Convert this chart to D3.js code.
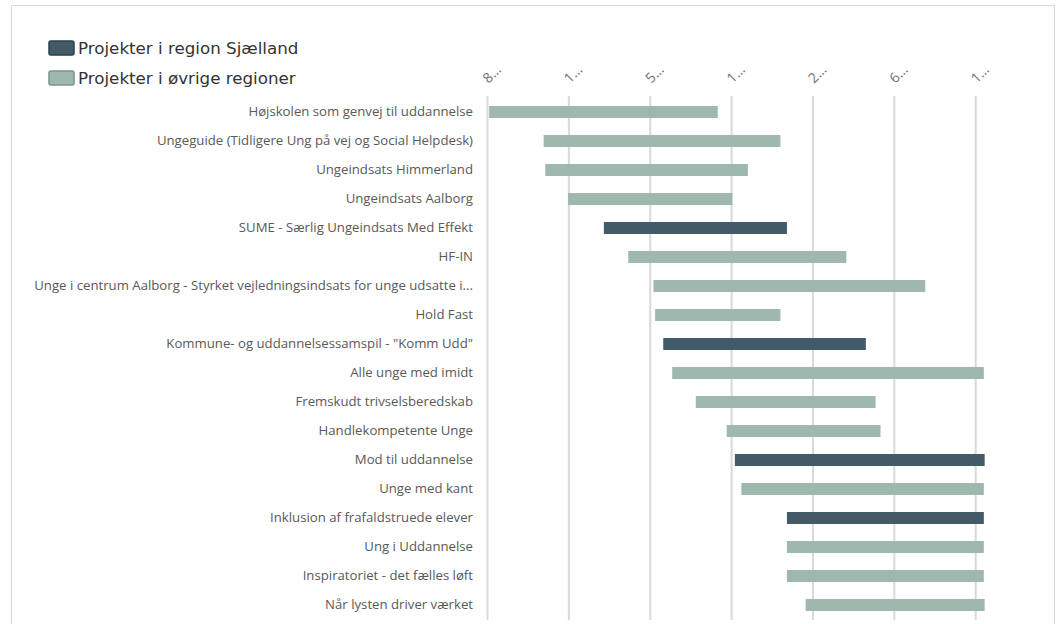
<!DOCTYPE html>
<html>
<head>
	<meta charset="utf-8">
	<title>Projekter - tidslinje</title>
	<style>
		html, body { margin: 0; padding: 0; background: #fff; }
		svg { display: block; }
		.lbl { font-family: 'Open Sans', sans-serif; font-size: 13.2px; fill: #595959; }
		.tick { font-family: 'Open Sans', sans-serif; font-size: 14px; fill: #6f6f6f; }
		.leg { font-family: 'DejaVu Sans', Verdana, sans-serif; font-size: 16.7px; fill: #333; }
	</style>
</head>
<body>
	<svg id="chart" width="1059" height="624"></svg>
	<script src="https://cdnjs.cloudflare.com/ajax/libs/d3/7.8.5/d3.min.js"></script>
	<script>
		// projects, top to bottom
		var projects = [
			'Højskolen som genvej til uddannelse',
			'Ungeguide (Tidligere Ung på vej og Social Helpdesk)',
			'Ungeindsats Himmerland',
			'Ungeindsats Aalborg',
			'SUME - Særlig Ungeindsats Med Effekt',
			'HF-IN',
			'Unge i centrum Aalborg - Styrket vejledningsindsats for unge udsatte i...',
			'Hold Fast',
			'Kommune- og uddannelsessamspil - "Komm Udd"',
			'Alle unge med imidt',
			'Fremskudt trivselsberedskab',
			'Handlekompetente Unge',
			'Mod til uddannelse',
			'Unge med kant',
			'Inklusion af frafaldstruede elever',
			'Ung i Uddannelse',
			'Inspiratoriet - det fælles løft',
			'Når lysten driver værket'
		];
		// start / end on the time axis (in tick units)
		var starts = [0.02, 0.69, 0.71, 0.99, 1.43, 1.73, 2.04, 2.06, 2.16, 2.27, 2.56, 2.94, 3.04, 3.12, 3.68, 3.68, 3.68, 3.91];
		var ends   = [2.83, 3.6, 3.2, 3.01, 3.68, 4.41, 5.38, 3.6, 4.65, 6.1, 4.77, 4.83, 6.11, 6.1, 6.1, 6.1, 6.1, 6.11];
		// 1 = region Sjælland, 0 = øvrige regioner
		var sjaelland = [0, 0, 0, 0, 1, 0, 0, 0, 1, 0, 0, 0, 1, 0, 1, 0, 0, 0];
		var tickLabels = ['8…', '1…', '5…', '1…', '2…', '6…', '1…'];
		var legendLabels = ['Projekter i region Sjælland', 'Projekter i øvrige regioner'];

		var colors = ['#9eb8ae', '#435a68'];
		var svg = d3.select('#chart');

		// outer frame (no bottom edge visible)
		svg.append('path')
			.attr('d', 'M11.5,624 V5.5 H1054.5 V624')
			.attr('fill', 'none').attr('stroke', '#d9d9d9').attr('stroke-width', 1);

		var x = d3.scaleLinear().domain([0, 6]).range([487.5, 975.7]);
		var y = d3.scaleBand().domain(d3.range(projects.length)).range([97.5, 619.5]).paddingInner(0.586).paddingOuter(0.293);

		// grid lines
		svg.append('g').selectAll('line')
			.data(d3.range(tickLabels.length))
			.join('line')
			.attr('x1', function (d) { return x(d); }).attr('x2', function (d) { return x(d); })
			.attr('y1', 96).attr('y2', 620)
			.attr('stroke', '#d9d9d9').attr('stroke-width', 2);

		// rotated tick labels
		svg.append('g').selectAll('text')
			.data(tickLabels)
			.join('text')
			.attr('class', 'tick')
			.attr('transform', function (d, i) { return 'translate(' + (x(i) + 1) + ',84) rotate(-45)'; })
			.text(function (d) { return d; });

		// bars
		svg.append('g').selectAll('rect')
			.data(projects)
			.join('rect')
			.attr('x', function (d, i) { return x(starts[i]); })
			.attr('width', function (d, i) { return x(ends[i]) - x(starts[i]); })
			.attr('y', function (d, i) { return y(i); })
			.attr('height', y.bandwidth())
			.attr('fill', function (d, i) { return colors[sjaelland[i]]; });

		// category labels
		svg.append('g').selectAll('text')
			.data(projects)
			.join('text')
			.attr('class', 'lbl')
			.attr('x', 473)
			.attr('y', function (d, i) { return y(i) + y.bandwidth() / 2 - 1; })
			.attr('dy', '0.35em')
			.attr('text-anchor', 'end')
			.text(function (d) { return d; });

		// legend
		var leg = svg.append('g').selectAll('g')
			.data(legendLabels)
			.join('g')
			.attr('transform', function (d, i) { return 'translate(49,' + (41 + i * 30) + ')'; });
		leg.append('rect')
			.attr('width', 25).attr('height', 14).attr('rx', 2)
			.attr('fill', function (d, i) { return colors[1 - i]; })
			.attr('stroke', function (d, i) { return i === 0 ? '#2e3f49' : '#7a948a'; })
			.attr('stroke-width', 1.5);
		leg.append('text')
			.attr('class', 'leg')
			.attr('x', 29).attr('y', 7).attr('dy', '0.35em')
			.text(function (d) { return d; });
	</script>
</body>
</html>
